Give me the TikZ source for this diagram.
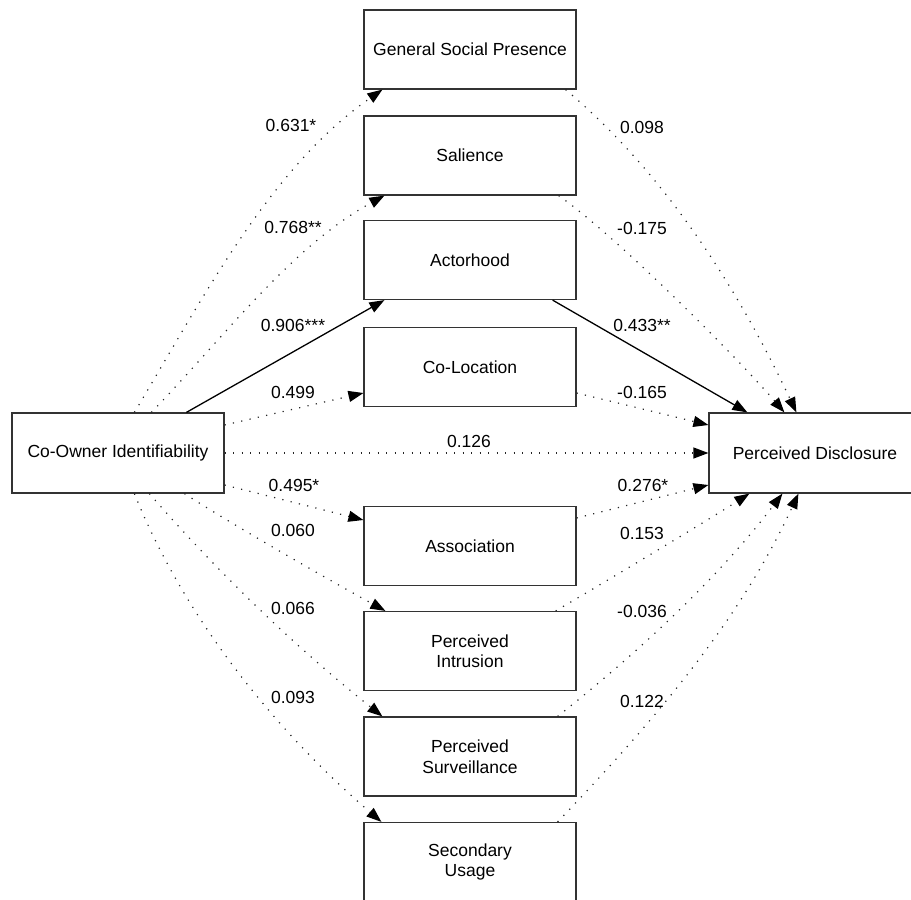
\documentclass[tikz,border=0pt]{standalone}
\usepackage{fontspec}
\setmainfont{Liberation Sans}
\usetikzlibrary{arrows.meta}
\begin{document}
\begin{tikzpicture}[x=1pt,y=-1pt,
  box/.style={draw=black!80, line width=1.2pt, fill=white, minimum width=212pt, minimum height=79pt, inner sep=2pt, align=center, font=\fontsize{17.5}{20.5}\selectfont},
  lbl/.style={font=\fontsize{17.5}{20.5}\selectfont, inner sep=1pt},
  dotarrow/.style={draw=black!85, line width=1.2pt, dash pattern=on 1.2pt off 7.3pt, -{Triangle[length=15pt,width=11pt,color=black]}},
  solarrow/.style={draw=black, line width=1.3pt, -{Triangle[length=15pt,width=11pt]}}]
\useasboundingbox (0,0) rectangle (911,900);
\clip (0,0) rectangle (911,900);
% boxes
\node[box] (gsp) at (470,49.5) {General Social Presence};
\node[box] (sal) at (470,155.5) {Salience};
\node[box] (act) at (470,260) {Actorhood};
\node[box] (col) at (470,367) {Co-Location};
\node[box] (ass) at (470,546) {Association};
\node[box] (pin) at (470,651) {Perceived\\Intrusion};
\node[box] (psu) at (470,756.5) {Perceived\\Surveillance};
\node[box] (sec) at (470,862) {Secondary\\Usage};
\node[box, minimum height=80pt] (co) at (118,453) {Co-Owner Identifiability};
\node[box, minimum height=80pt] (pd) at (815,453) {Perceived Disclosure};
% outgoing from co
\draw[dotarrow] ([xshift=123pt]co.north west) .. controls (204,296) and (271,167) .. ([xshift=19pt]gsp.south west);
\draw[dotarrow] ([xshift=140pt]co.north west) .. controls (225,336) and (292,246) .. ([xshift=21pt]sal.south west);
\draw[solarrow] ([xshift=175pt]co.north west) -- ([xshift=21pt]act.south west);
\draw[dotarrow] ([yshift=28pt]co.east) -- ([yshift=-26pt]col.west);
\draw[dotarrow] (co.east) -- (pd.west);
\draw[dotarrow] ([yshift=-32pt]co.east) -- ([yshift=26pt]ass.west);
\draw[dotarrow] ([xshift=173pt]co.south west) .. controls (230,523) and (320,575) .. ([xshift=22pt]pin.north west);
\draw[dotarrow] ([xshift=138pt]co.south west) .. controls (220,575) and (299,650) .. ([xshift=19pt]psu.north west);
\draw[dotarrow] ([xshift=123pt]co.south west) .. controls (185,620) and (278,733) .. ([xshift=18pt]sec.north west);
% incoming to pd
\draw[dotarrow] ([xshift=-11pt]gsp.south east) .. controls (667,175) and (740,293) .. ([xshift=88pt]pd.north west);
\draw[dotarrow] ([xshift=-18pt]sal.south east) .. controls (615,235) and (735,355) .. ([xshift=76pt]pd.north west);
\draw[solarrow] ([xshift=-24pt]act.south east) -- ([xshift=39pt]pd.north west);
\draw[dotarrow] ([yshift=-26pt]col.east) -- ([yshift=28pt]pd.west);
\draw[dotarrow] ([yshift=28pt]ass.east) -- ([yshift=-32pt]pd.west);
\draw[dotarrow] ([xshift=-21pt]pin.north east) .. controls (600,585) and (700,525) .. ([xshift=41pt]pd.south west);
\draw[dotarrow] ([xshift=-19pt]psu.north east) .. controls (640,651) and (719,577) .. ([xshift=74pt]pd.south west);
\draw[dotarrow] ([xshift=-19pt]sec.north east) .. controls (660,715) and (742,616) .. ([xshift=90pt]pd.south west);
% labels
\node[lbl] (l1) at (291,125) {0.631*};
\node[lbl] (l2) at (293,227) {0.768**};
\node[lbl] (l3) at (293,325) {0.906***};
\node[lbl] (l4) at (293,392) {0.499};
\node[lbl] (l5) at (294,485) {0.495*};
\node[lbl] (l6) at (293,530) {0.060};
\node[lbl] (l7) at (293,608) {0.066};
\node[lbl] (l8) at (293,697) {0.093};
\node[lbl] (r1) at (642,127) {0.098};
\node[lbl] (r2) at (642,228) {-0.175};
\node[lbl] (r3) at (642,325) {0.433**};
\node[lbl] (r4) at (642,392) {-0.165};
\node[lbl] (r5) at (643,485) {0.276*};
\node[lbl] (r6) at (642,533) {0.153};
\node[lbl] (r7) at (642,611) {-0.036};
\node[lbl] (r8) at (642,701) {0.122};
\node[lbl] (m1) at (469,441) {0.126};
\end{tikzpicture}
\end{document}
